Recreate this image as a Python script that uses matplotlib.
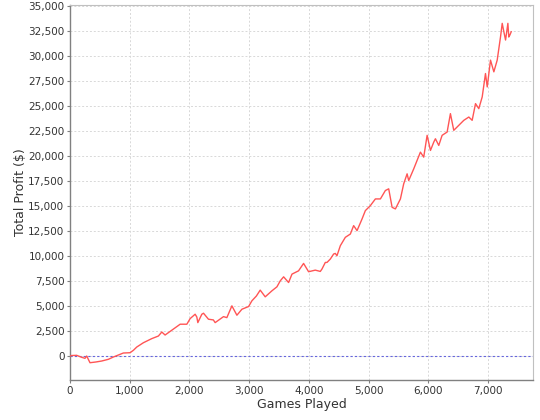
import matplotlib
matplotlib.use("Agg")
import matplotlib.pyplot as plt
from matplotlib.ticker import FuncFormatter, MultipleLocator

# Data (games played, total profit $)
games = [
    0, 28, 112, 196, 251, 280, 335, 430, 531, 642, 726, 810, 893, 1006,
    1061, 1118, 1229, 1369, 1480, 1537, 1592, 1704, 1844, 1956, 2011,
    2095, 2123, 2140, 2207, 2235, 2318, 2400, 2430, 2570, 2626, 2710,
    2794, 2878, 2990, 3045, 3120, 3184, 3268, 3380, 3464, 3520, 3576,
    3659, 3716, 3826, 3910, 3994, 4106, 4190, 4218, 4274, 4302, 4358,
    4413, 4441, 4469, 4525, 4609, 4693, 4748, 4805, 4889, 4944, 5028,
    5112, 5196, 5279, 5335, 5392, 5447, 5531, 5586, 5643, 5670, 5754,
    5810, 5866, 5921, 5978, 6034, 6089, 6117, 6173, 6229, 6313, 6368,
    6424, 6508, 6592, 6676, 6732, 6788, 6843, 6900, 6955, 6984, 7039,
    7095, 7151, 7207, 7235, 7260, 7291, 7330, 7345, 7363, 7386,
]
profit = [
    0, 50, 70, -130, -230, 0, -670, -600, -500, -330, -100, 100, 300, 330,
    570, 900, 1330, 1740, 2000, 2400, 2100, 2580, 3180, 3180, 3740,
    4180, 3900, 3340, 4180, 4280, 3680, 3610, 3340, 3940, 3840, 5015,
    4080, 4680, 4950, 5520, 6000, 6590, 5920, 6520, 6920, 7520, 7920,
    7350, 8190, 8520, 9260, 8430, 8590, 8460, 8700, 9360, 9360, 9700,
    10200, 10260, 10030, 11030, 11870, 12200, 13040, 12540, 13710, 14540, 15040,
    15710, 15710, 16550, 16720, 14870, 14710, 15710, 17220, 18220, 17550, 18720,
    19560, 20390, 19890, 22070, 20560, 21390, 21730, 21060, 22070, 22400, 24240,
    22570, 23070, 23570, 23900, 23570, 25240, 24740, 25910, 28250, 26910, 29590,
    28420, 29590, 31930, 33270, 32500, 31600, 33270, 31900, 32100, 32430,
]

x_ticks = [0, 1000, 2000, 3000, 4000, 5000, 6000, 7000]

fig = plt.figure(figsize=(5.4, 4.2), dpi=100)
ax = fig.add_axes([0.1296, 0.0952, 0.8574, 0.8928])

ax.plot(games, profit, color="#ff5555", linewidth=1.0, zorder=3)
ax.axhline(0, color="#6666dd", linewidth=0.8, linestyle=(0, (2, 2)), zorder=2)

ax.set_xlim(0, 7750)
ax.set_xticks(x_ticks)
ax.yaxis.set_major_locator(MultipleLocator(2500))
ax.set_ylim(-2400, 35100)

fmt = FuncFormatter(lambda v, p: f"{v:,.0f}")
ax.xaxis.set_major_formatter(fmt)
ax.yaxis.set_major_formatter(fmt)

ax.grid(True, color="#d8d8d8", linestyle=(0, (2, 2)), linewidth=0.7)
ax.set_axisbelow(True)

for side in ["top", "right"]:
    ax.spines[side].set_color("#c0c0c0")
for side in ["left", "bottom"]:
    ax.spines[side].set_color("#808080")
    ax.spines[side].set_linewidth(1.0)

ax.tick_params(axis="both", labelsize=7.5, color="#808080", length=2,
               width=0.8, pad=2, labelcolor="#333333")

ax.set_xlabel("Games Played", fontsize=9, color="#333333", labelpad=2)
ax.set_ylabel("Total Profit ($)", fontsize=9, color="#333333", labelpad=1)

fig.savefig("out.png", dpi=100)
